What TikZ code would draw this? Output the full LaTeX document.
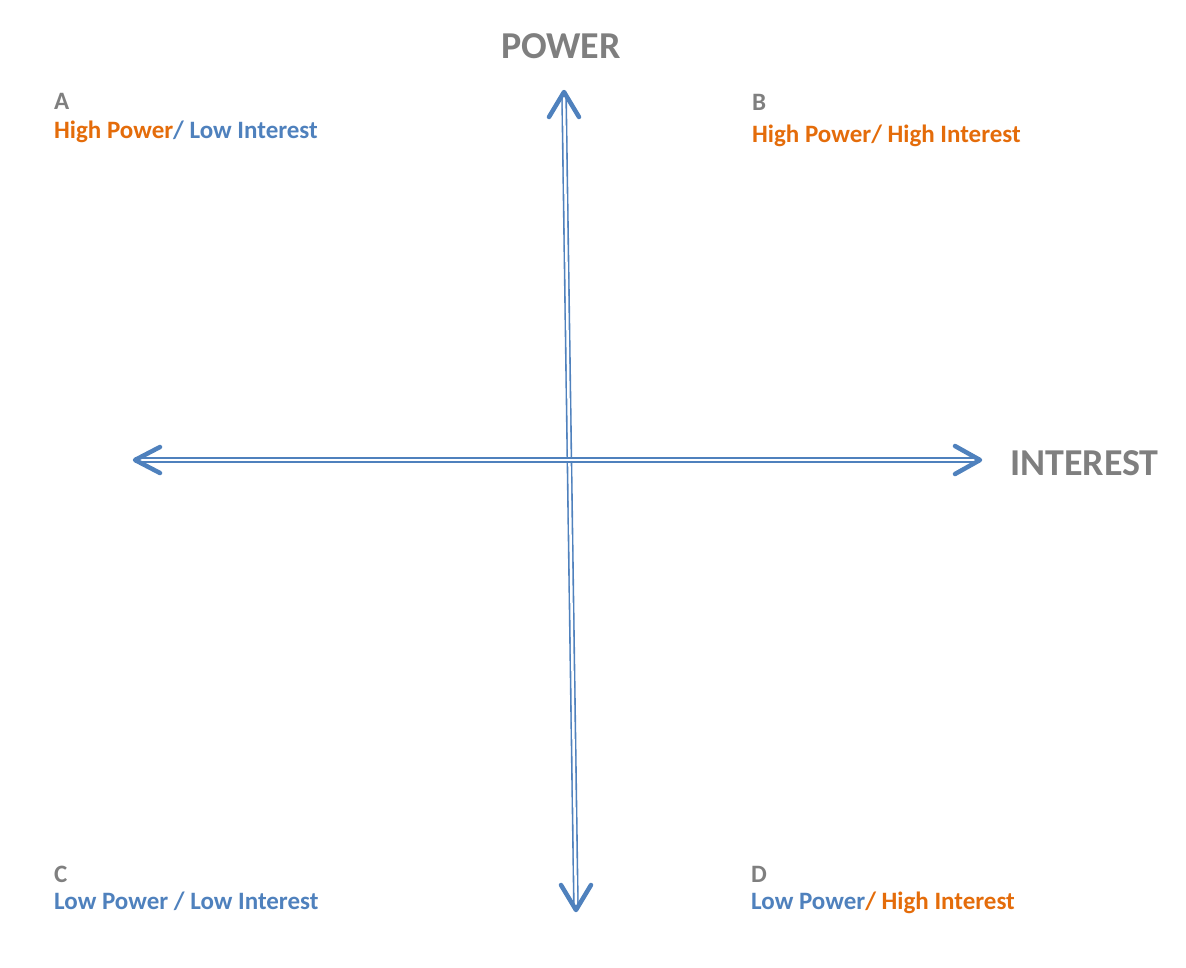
\documentclass[tikz,border=0pt]{standalone}
\usepackage{fontspec}
\setmainfont{Carlito}
\definecolor{or}{HTML}{E46C0A}
\definecolor{bl}{HTML}{4F81BD}
\definecolor{gr}{HTML}{7F7F7F}
\begin{document}
\begin{tikzpicture}[x=1pt,y=-1pt,
  axis/.style={draw=bl,double=white,double distance=2.5pt,line width=1.6pt},
  head/.style={draw=bl,line width=4.5pt,line cap=round,line join=round},
  lab/.style={anchor=base west,inner sep=0pt,font=\bfseries\fontsize{25}{27}\selectfont},
  big/.style={inner sep=0pt,text=gr,font=\bfseries\fontsize{38}{40}\selectfont}]
\useasboundingbox (0,0) rectangle (1186,967);
\coordinate (t) at (564,92);
\coordinate (b) at (576,910);
\coordinate (l) at (135,460);
\coordinate (r) at (980,460);
\draw[axis] (t) -- (b);
\draw[axis] (l) -- (r);
\draw[head] (549,117) -- (t) -- (579,117);
\draw[head] (561,885) -- (b) -- (591,885);
\draw[head] (160,447) -- (l) -- (160,473);
\draw[head] (955,446) -- (r) -- (955,474);
\node[big,anchor=base] (pw) at (561,58) {POWER};
\node[big,anchor=base west] (in) at (1010,475) {INTEREST};
\node[lab,text=gr] (a) at (54,109) {A};
\node[lab] (al) at (54,138) {\textcolor{or}{High Power}\textcolor{bl}{/ Low Interest}};
\node[lab,text=gr] (bb) at (752,110) {B};
\node[lab] (bl2) at (752,142) {\textcolor{or}{High Power/ High Interest}};
\node[lab,text=gr] (c) at (54,882) {C};
\node[lab] (cl) at (54,909) {\textcolor{bl}{Low Power / Low Interest}};
\node[lab,text=gr] (d) at (751,882) {D};
\node[lab] (dl) at (751,909) {\textcolor{bl}{Low Power}\textcolor{or}{ / High Interest}};
\end{tikzpicture}
\end{document}
